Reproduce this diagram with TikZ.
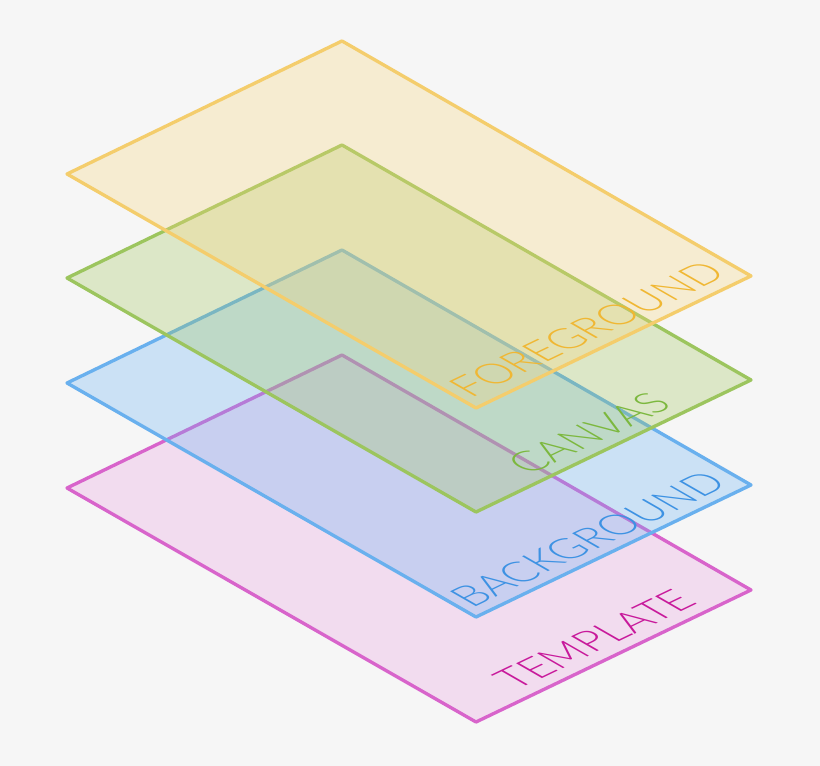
\documentclass[tikz,border=0pt]{standalone}
\usepackage{fontspec}
\usepackage{tikz}
\newfontfamily\lbl[FakeStretch=0.98]{Lato Light}
\definecolor{pagebg}{HTML}{F6F6F6}
\definecolor{fgd}{HTML}{F4CD6C}
\definecolor{fgdfill}{RGB}{249,213,126}
\definecolor{fgdtext}{HTML}{F0B733}
\definecolor{cvs}{HTML}{9CC55E}
\definecolor{cvsfill}{RGB}{163,199,93}
\definecolor{cvstext}{HTML}{7CB83E}
\definecolor{bgd}{HTML}{69B0EE}
\definecolor{bgdfill}{RGB}{106,179,243}
\definecolor{bgdtext}{HTML}{3D92E3}
\definecolor{tpl}{HTML}{D864CB}
\definecolor{tplfill}{RGB}{236,163,226}
\definecolor{tpltext}{HTML}{C8199B}

\begin{document}
\begin{tikzpicture}[x=0.02cm, y=-0.02cm,
    sheet/.style = {line width=1.9pt, line join=round, fill opacity=0.3},
    % text lying flat on the sheet
    sheetname/.style = {cm={0.9016,0.4328,-0.8671,0.4982,(0,0)},
      anchor=base, inner sep=0pt, font=\lbl\fontsize{24}{28}\selectfont}]
    \fill[pagebg] (0,0) rectangle (820,766);
    % lowest sheet first
    \foreach \off/\col/\txt/\lx/\ly in {314/tpl/TEMPLATE/608/333,
        209/bgd/BACKGROUND/601/338, 104/cvs/CANVAS/602/337,
        0/fgd/FOREGROUND/600/337} {
      \filldraw[sheet, draw=\col, fill=\col fill]
        (67,{174+\off}) -- (342,{41+\off}) -- (751,{276+\off})
        -- (476,{408+\off}) -- cycle;
      \node[sheetname, text=\col text] (\col) at (\lx,{\ly+\off}) {\txt};
    }
\end{tikzpicture}
\end{document}
